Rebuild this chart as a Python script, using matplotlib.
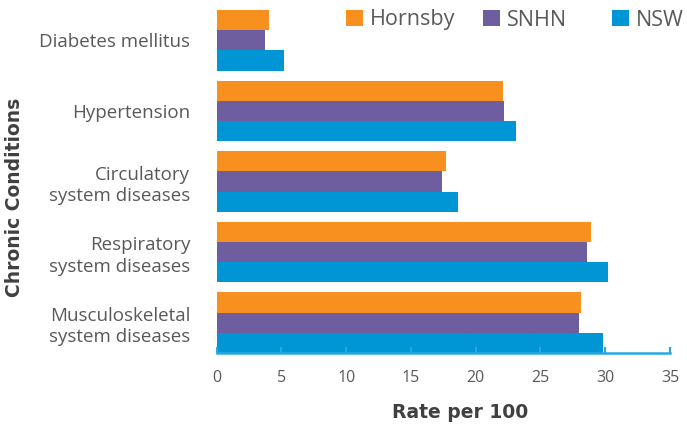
import matplotlib
matplotlib.use("Agg")
import matplotlib.pyplot as plt
import numpy as np
from matplotlib.patches import Patch

categories = ["Diabetes mellitus", "Hypertension", "Circulatory\nsystem diseases",
              "Respiratory\nsystem diseases", "Musculoskeletal\nsystem diseases"]
series_names = ["Hornsby", "SNHN", "NSW"]
hornsby = [4.0, 22.1, 17.7, 28.9, 28.1]
snhn = [3.7, 22.2, 17.4, 28.6, 27.95]
nsw = [5.2, 23.1, 18.6, 30.2, 29.8]
x_ticks = [0, 5, 10, 15, 20, 25, 30, 35]

colors = ["#F7901E", "#6F5E9F", "#0096D6"]
plt.rcParams['font.family'] = ['Open Sans', 'DejaVu Sans']

fig = plt.figure(figsize=(6.87, 4.25), dpi=100)
ax = fig.add_axes([216.7/687, 1-353/425, (670-216.7)/687, 343/425])

n = len(categories)
pos = np.arange(n)[::-1].astype(float)
h = 0.2857
for i, (vals, c) in enumerate(zip([hornsby, snhn, nsw], colors)):
    ax.barh(pos + (1 - i) * h, vals, height=h, color=c, label=series_names[i])

ax.set_ylim(-0.4286, 4.4286)
ax.set_xlim(0, 35)
ax.set_xticks(x_ticks)
ax.set_yticks(pos)
ax.set_yticklabels(categories, fontsize=13.5, color="#58595B", linespacing=1.25)
ax.tick_params(axis='y', length=0, pad=19)
ax.tick_params(axis='x', direction='in', length=4, width=1.5, color="#29A8E0",
               labelsize=11.5, labelcolor="#58595B", pad=12)
for s in ["top", "right", "left"]:
    ax.spines[s].set_visible(False)
ax.spines["bottom"].set_color("#29A8E0")
ax.spines["bottom"].set_linewidth(1.8)

fig.text(460/687, 1-412/425, "Rate per 100", fontsize=13.5, fontweight="bold",
         family="DejaVu Sans", color="#404040", ha="center", va="center")
fig.text(15/687, 1-197/425, "Chronic Conditions", rotation=90, fontsize=13.5,
         fontweight="bold", family="DejaVu Sans", color="#404040", ha="center", va="center")

legend_x = [346, 483, 612]
for name, c, lx in zip(series_names, colors, legend_x):
    fig.legend([Patch(facecolor=c, edgecolor='none')], [name], loc="center left",
               bbox_to_anchor=(lx/687, 1-20/425), frameon=False, fontsize=15.5,
               handlelength=0.8, handleheight=0.8, handletextpad=0.3,
               borderpad=0, borderaxespad=0, labelcolor="#58595B")

fig.savefig("out.png", dpi=100)
